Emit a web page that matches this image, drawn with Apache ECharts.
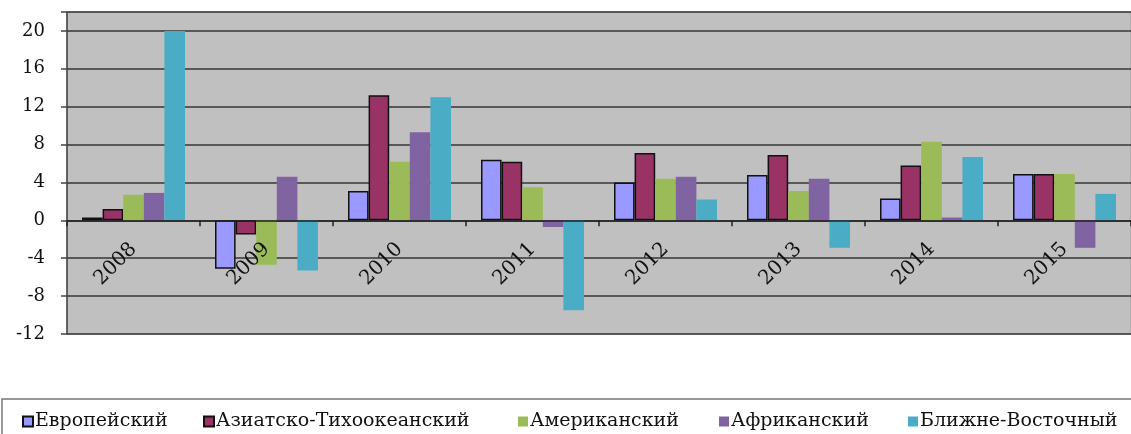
<!DOCTYPE html>
<html>
<head>
<meta charset="utf-8">
<script src="https://cdn.jsdelivr.net/npm/echarts@6/dist/echarts.min.js"></script>
<style>
html,body{margin:0;padding:0;background:#fff;}
#c{width:1131px;height:434px;}
</style>
</head>
<body>
<div id="c"></div>
<script>
const years = ['2008','2009','2010','2011','2012','2013','2014','2015'];
const seriesNames = ['Европейский','Азиатско-Тихоокеанский','Американский','Африканский','Ближне-Восточный'];
const european   = [0.3, -5.1, 3.1, 6.4, 4.0, 4.8, 2.3, 4.9];
const asiaPacific = [1.2, -1.5, 13.2, 6.2, 7.1, 6.9, 5.8, 4.9];
const american   = [2.7, -4.7, 6.2, 3.5, 4.4, 3.1, 8.3, 4.9];
const african    = [2.9, 4.6, 9.3, -0.7, 4.6, 4.4, 0.3, -2.9];
const middleEast = [20.0, -5.3, 13.0, -9.5, 2.2, -2.9, 6.7, 2.8];
const yTickLabels = ['-12','-8','-4','0','4','8','12','16','20'];

const values = [european, asiaPacific, american, african, middleEast];
const colors = ['#9999FF','#993366','#9BBB59','#8064A2','#4BACC6'];
const borders = [true, true, false, false, false];
const legendLeft = [22, 203, 518, 719, 908];
const font = 'DejaVu Serif';

const chart = echarts.init(document.getElementById('c'), null, {renderer:'canvas'});
const option = {
  backgroundColor: '#ffffff',
  animation: false,
  grid: {left: 67, top: 12, right: -10, bottom: 100, show: true, backgroundColor: '#C0C0C0', borderColor: '#9a9a9a', borderWidth: 1},
  xAxis: {
    type: 'category',
    data: years,
    z: 10,
    axisLine: {onZero: true, lineStyle: {color: '#222', width: 1.5}},
    axisTick: {show: true, length: 6, lineStyle: {color: '#222', width: 1.5}},
    axisLabel: {rotate: 45, fontFamily: font, fontSize: 20, color: '#111', margin: -88}
  },
  yAxis: {
    type: 'value',
    min: -12, max: 22, interval: 4,
    axisLine: {show: true, lineStyle: {color: '#444', width: 1.5}},
    axisTick: {show: true, length: 6, lineStyle: {color: '#444', width: 1.5}},
    splitLine: {show: true, lineStyle: {color: '#363636', width: 1.6}},
    axisLabel: {
      fontFamily: font, fontSize: 18, color: '#111', margin: 22,
      formatter: function (v) { const s = String(v); return yTickLabels.indexOf(s) >= 0 ? s : ''; }
    }
  },
  legend: seriesNames.map((n, i) => ({
    data: [n],
    left: legendLeft[i], top: 412,
    orient: 'horizontal',
    icon: 'rect', itemWidth: 10, itemHeight: 10, itemGap: 4,
    textStyle: {fontFamily: font, fontSize: 19, color: '#111', padding: [0, 0, 0, -3]},
    padding: 0
  })),
  graphic: [{
    type: 'rect', silent: true, z: -1,
    shape: {x: 2, y: 399, width: 1200, height: 60},
    style: {fill: 'none', stroke: '#777', lineWidth: 1.5}
  }],
  series: seriesNames.map((n, i) => ({
    name: n,
    type: 'bar',
    data: values[i],
    barWidth: 20.6,
    barGap: '0%',
    itemStyle: {color: colors[i], borderColor: borders[i] ? '#111' : colors[i], borderWidth: borders[i] ? 1.5 : 0}
  }))
};
chart.setOption(option);
</script>
</body>
</html>
